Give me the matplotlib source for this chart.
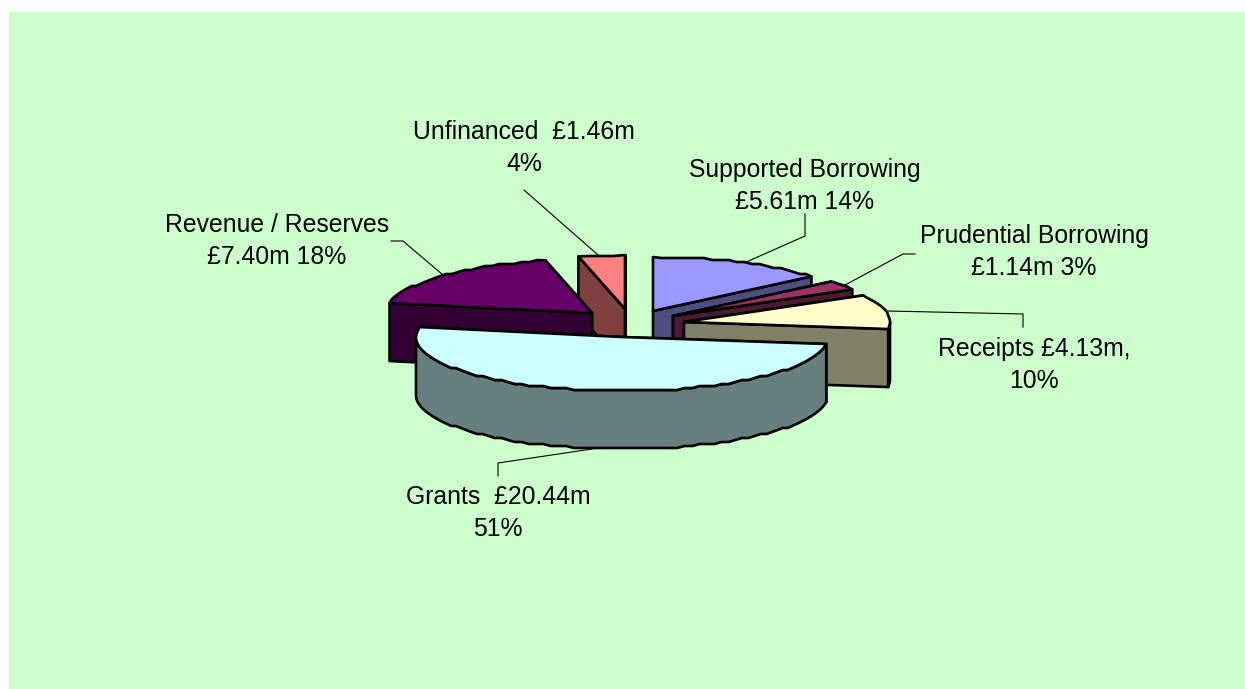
import numpy as np
import matplotlib
matplotlib.use("Agg")
import matplotlib.pyplot as plt
from matplotlib.patches import Polygon, Rectangle

# Capital financing sources, clockwise from twelve o'clock
sources = ["Supported Borrowing", "Prudential Borrowing", "Receipts",
           "Grants", "Revenue / Reserves", "Unfinanced"]
amounts = [5.61, 1.14, 4.13, 20.44, 7.40, 1.46]
label_lines = [
    ["Supported Borrowing", "£5.61m 14%"],
    ["Prudential Borrowing", "£1.14m 3%"],
    ["Receipts £4.13m,", "10%"],
    ["Grants  £20.44m", "51%"],
    ["Revenue / Reserves", "£7.40m 18%"],
    ["Unfinanced  £1.46m", "4%"],
]
top_colors = ["#9999FF", "#993366", "#FFFFCC", "#CCFFFF", "#660066", "#FF8080"]
side_colors = ["#4D4D80", "#4D1A33", "#808066", "#668080", "#330033", "#804040"]

# Layout in pixels
W, H = 1245, 689
RX, RY, DEPTH = 206, 54, 58
ARC_STEP = 2.0  # vertical grid the rim outline snaps to, giving its scalloped look
centres = [(653, 311), (673, 316), (684, 322), (622, 337), (592, 313), (625, 309)]
label_centres = [(805, 170), (1034, 236), (1034, 349), (498, 497), (277, 225), (524, 132)]
LINE_STEP = 32
leaders = [
    [(805, 214), (805, 236), (744, 263)],
    [(915, 254), (903, 254), (845, 285)],
    [(1023, 327), (1023, 314), (888, 311)],
    [(498, 476), (498, 463), (592, 449)],
    [(391, 241), (403, 241), (443, 275)],
    [(524, 190), (598, 255)],
]
draw_order = [5, 0, 1, 2, 4, 3]

fig = plt.figure(figsize=(W / 100, H / 100), dpi=100, facecolor="white")
ax = fig.add_axes([0, 0, 1, 1])
ax.set_xlim(0, W)
ax.set_ylim(H, 0)
ax.axis("off")
ax.add_patch(Rectangle((9, 12), W - 9, H - 12, facecolor="#CCFFCC", edgecolor="none", zorder=0))

fractions = np.array(amounts) / sum(amounts)
edges = np.concatenate([[0], np.cumsum(fractions)]) * 2 * np.pi


def rim_point(centre, t):
    return centre[0] + RX * np.sin(t), centre[1] - RY * np.cos(t)


def snapped(point):
    return point[0], round(point[1] / ARC_STEP) * ARC_STEP


def face(poly, color, z):
    ax.add_patch(Polygon(poly, closed=True, facecolor=color, edgecolor="black",
                         linewidth=1.9, joinstyle="round", zorder=z))


z = 2
for i in draw_order:
    c = centres[i]
    t0, t1 = edges[i], edges[i + 1]
    ts = np.linspace(t0, t1, max(int((t1 - t0) * 26), 4))
    arc = [rim_point(c, ts[0])] + [snapped(rim_point(c, t)) for t in ts[1:-1]] + [rim_point(c, ts[-1])]

    start = rim_point(c, t0)
    end = rim_point(c, t1)
    start_face = [c, start, (start[0], start[1] + DEPTH), (c[0], c[1] + DEPTH)]
    end_face = [c, end, (end[0], end[1] + DEPTH), (c[0], c[1] + DEPTH)]

    # Radial walls: the one further from the viewer goes first
    left_half = np.sin((t0 + t1) / 2) < 0
    first, second = (end_face, start_face) if left_half else (start_face, end_face)
    face(first, side_colors[i], z)
    z += 1
    face(second, side_colors[i], z)
    z += 1

    # Outer wall along the near part of the rim
    near = [p for p, t in zip(arc, ts) if np.cos(t) < 0.02]
    if len(near) > 1:
        lower = [(x, y + DEPTH) for x, y in near][::-1]
        face(near + lower, side_colors[i], z)
        z += 1

    face([c] + arc, top_colors[i], z)
    z += 1

for path in leaders:
    xs, ys = zip(*path)
    ax.plot(xs, ys, color="black", linewidth=0.8, zorder=z)

for lines, (x, y) in zip(label_lines, label_centres):
    for k, line in enumerate(lines):
        ax.text(x, y + k * LINE_STEP, line, ha="center", va="center", color="black",
                fontsize=17.8, family="Liberation Sans", zorder=z + 1)

fig.savefig("out.png", dpi=100, facecolor="white")
